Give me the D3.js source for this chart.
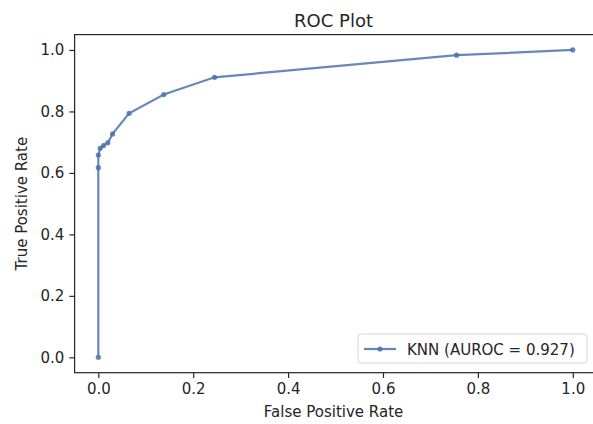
<!DOCTYPE html>
<html>
<head>
<meta charset="utf-8">
<script src="https://cdn.jsdelivr.net/npm/d3@7"></script>
<style>
  body { margin: 0; background: #fff; }
  text { font-family: "DejaVu Sans", sans-serif; fill: #262626; }
</style>
</head>
<body>
<div id="chart"></div>
<script>
// ROC curve points
var fpr = [0, 0, 0, 0.004, 0.011, 0.02, 0.03, 0.065, 0.138, 0.245, 0.755, 1.0];
var tpr = [0, 0.617, 0.658, 0.68, 0.689, 0.698, 0.727, 0.794, 0.855, 0.911, 0.983, 1.0];
var xTicks = [0, 0.2, 0.4, 0.6, 0.8, 1.0];
var yTicks = [0, 0.2, 0.4, 0.6, 0.8, 1.0];
var seriesName = "KNN (AUROC = 0.927)";

var svgWidth = 593, svgHeight = 424;
var margin = { top: 34.6, right: -3.5, bottom: 51.3, left: 74.6 };
var chartWidth = svgWidth - margin.left - margin.right;
var chartHeight = svgHeight - margin.top - margin.bottom;

var svg = d3.select("#chart")
  .append("svg")
  .attr("width", svgWidth)
  .attr("height", svgHeight);

var chartGroup = svg.append("g")
  .attr("transform", `translate(${margin.left}, ${margin.top})`);

var xScale = d3.scaleLinear().domain([-0.05, 1.05]).range([0, chartWidth]);
var yScale = d3.scaleLinear().domain([-0.05, 1.05]).range([chartHeight, 0]);

// axes
var bottomAxis = d3.axisBottom(xScale).tickValues(xTicks).tickFormat(d3.format(".1f"))
  .tickSize(5.25).tickPadding(5);
var leftAxis = d3.axisLeft(yScale).tickValues(yTicks).tickFormat(d3.format(".1f"))
  .tickSize(5.25).tickPadding(5);

var gx = chartGroup.append("g")
  .attr("transform", `translate(0, ${chartHeight})`)
  .call(bottomAxis);
var gy = chartGroup.append("g").call(leftAxis);

[gx, gy].forEach(function(g) {
  g.select(".domain").remove();
  g.selectAll(".tick line").attr("stroke", "#262626").attr("stroke-width", 1.2);
  g.selectAll(".tick text").attr("font-size", "15px").attr("fill", "#262626")
    .attr("font-family", "DejaVu Sans, sans-serif");
});

// spines
chartGroup.append("rect")
  .attr("width", chartWidth)
  .attr("height", chartHeight)
  .attr("fill", "none")
  .attr("stroke", "#262626")
  .attr("stroke-width", 1.2);

var color = "#4c72b0";
var points = fpr.map(function(f, i) { return { x: f, y: tpr[i] }; });

var line = d3.line().x(d => xScale(d.x)).y(d => yScale(d.y));
chartGroup.append("path")
  .datum(points)
  .attr("d", line)
  .attr("fill", "none")
  .attr("stroke", color)
  .attr("stroke-width", 2.2)
  .attr("opacity", 0.85);

chartGroup.selectAll("circle.pt")
  .data(points)
  .enter()
  .append("circle")
  .attr("class", "pt")
  .attr("cx", d => xScale(d.x))
  .attr("cy", d => yScale(d.y))
  .attr("r", 2.6)
  .attr("fill", color)
  .attr("opacity", 0.85);

// title and axis labels
svg.append("text")
  .attr("x", margin.left + chartWidth / 2 - 2)
  .attr("y", 27)
  .attr("text-anchor", "middle")
  .attr("font-size", "18px")
  .text("ROC Plot");

svg.append("text")
  .attr("x", margin.left + chartWidth / 2 - 2)
  .attr("y", 417)
  .attr("text-anchor", "middle")
  .attr("font-size", "15px")
  .text("False Positive Rate");

svg.append("text")
  .attr("transform", `translate(27, ${margin.top + chartHeight / 2}) rotate(-90)`)
  .attr("text-anchor", "middle")
  .attr("font-size", "15px")
  .text("True Positive Rate");

// legend, lower right
var legend = svg.append("g").attr("transform", "translate(358, 334)");
legend.append("rect")
  .attr("width", 229)
  .attr("height", 29)
  .attr("rx", 3)
  .attr("fill", "#fff")
  .attr("fill-opacity", 0.8)
  .attr("stroke", "#d6d6d6")
  .attr("stroke-width", 1);
legend.append("line")
  .attr("x1", 6).attr("x2", 38)
  .attr("y1", 15).attr("y2", 15)
  .attr("stroke", color)
  .attr("stroke-width", 2.2)
  .attr("opacity", 0.85);
legend.append("circle")
  .attr("cx", 22).attr("cy", 15).attr("r", 2.6)
  .attr("fill", color).attr("opacity", 0.85);
legend.append("text")
  .attr("x", 49)
  .attr("y", 20.5)
  .attr("font-size", "15px")
  .text(seriesName);
</script>
</body>
</html>
